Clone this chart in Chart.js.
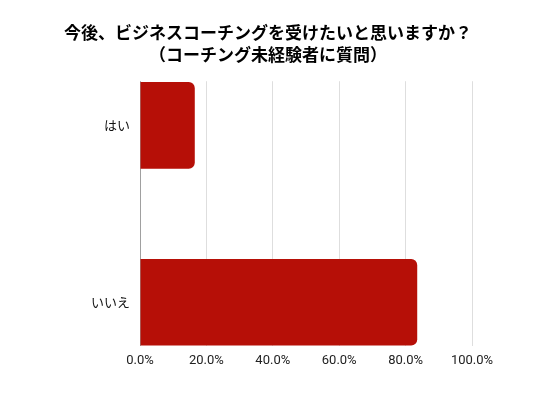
<!DOCTYPE html>
<html>
<head>
<meta charset="utf-8">
<script src="https://cdn.jsdelivr.net/npm/chart.js@4"></script>
<style>
  html, body { margin: 0; padding: 0; background: #fff; }
  #wrap { width: 536px; height: 402px; }
</style>
</head>
<body>
<div id="wrap"><canvas id="chart"></canvas></div>
<script>
const titleLines = ['今後、ビジネスコーチングを受けたいと思いますか？', '（コーチング未経験者に質問）'];
const categories = ['はい', 'いいえ'];
const shares = [16.5, 83.5];
const xTicks = [0, 20, 40, 60, 80, 100];

const barColor = '#b60f07';

const ctx = document.getElementById('chart').getContext('2d');
new Chart(ctx, {
  type: 'bar',
  data: {
    datasets: [{
      data: shares.map((v, i) => ({ x: v, y: i })),
      backgroundColor: barColor,
      borderWidth: 0,
      borderRadius: 6,
      borderSkipped: 'start',
      barPercentage: 0.7,
      categoryPercentage: 0.7
    }]
  },
  options: {
    indexAxis: 'y',
    responsive: true,
    maintainAspectRatio: false,
    animation: false,
    layout: { padding: { top: 21, left: 64, right: 64, bottom: 26 } },
    plugins: {
      legend: { display: false },
      tooltip: { enabled: false },
      title: {
        display: true,
        text: titleLines,
        color: '#000',
        font: { family: '"Noto Sans CJK JP"', size: 17, weight: 'bold', lineHeight: 1.33 },
        padding: { top: 0, bottom: 15 }
      }
    },
    scales: {
      x: {
        type: 'linear',
        min: 0,
        max: 100,
        afterBuildTicks: s => { s.ticks = xTicks.map(v => ({ value: v })); },
        border: { display: false },
        grid: {
          drawTicks: false,
          color: c => (c.tick && c.tick.value === 0 ? '#a0a0a0' : '#dedede')
        },
        ticks: {
          padding: 7,
          color: '#222',
          font: { family: 'Roboto', size: 13 },
          callback: v => v.toFixed(1) + '%'
        }
      },
      y: {
        type: 'linear',
        reverse: true,
        offset: false,
        bounds: 'data',
        min: -0.25,
        max: 1.25,
        afterBuildTicks: s => { s.ticks = categories.map((_, i) => ({ value: i })); },
        afterFit: s => { s.width = 76; },
        border: { display: false },
        grid: { display: false, drawTicks: false, offset: false },
        ticks: {
          padding: 10,
          color: '#111',
          font: { family: '"Noto Sans CJK JP"', size: 13 },
          callback: v => categories[v]
        }
      }
    }
  }
});
</script>
</body>
</html>
